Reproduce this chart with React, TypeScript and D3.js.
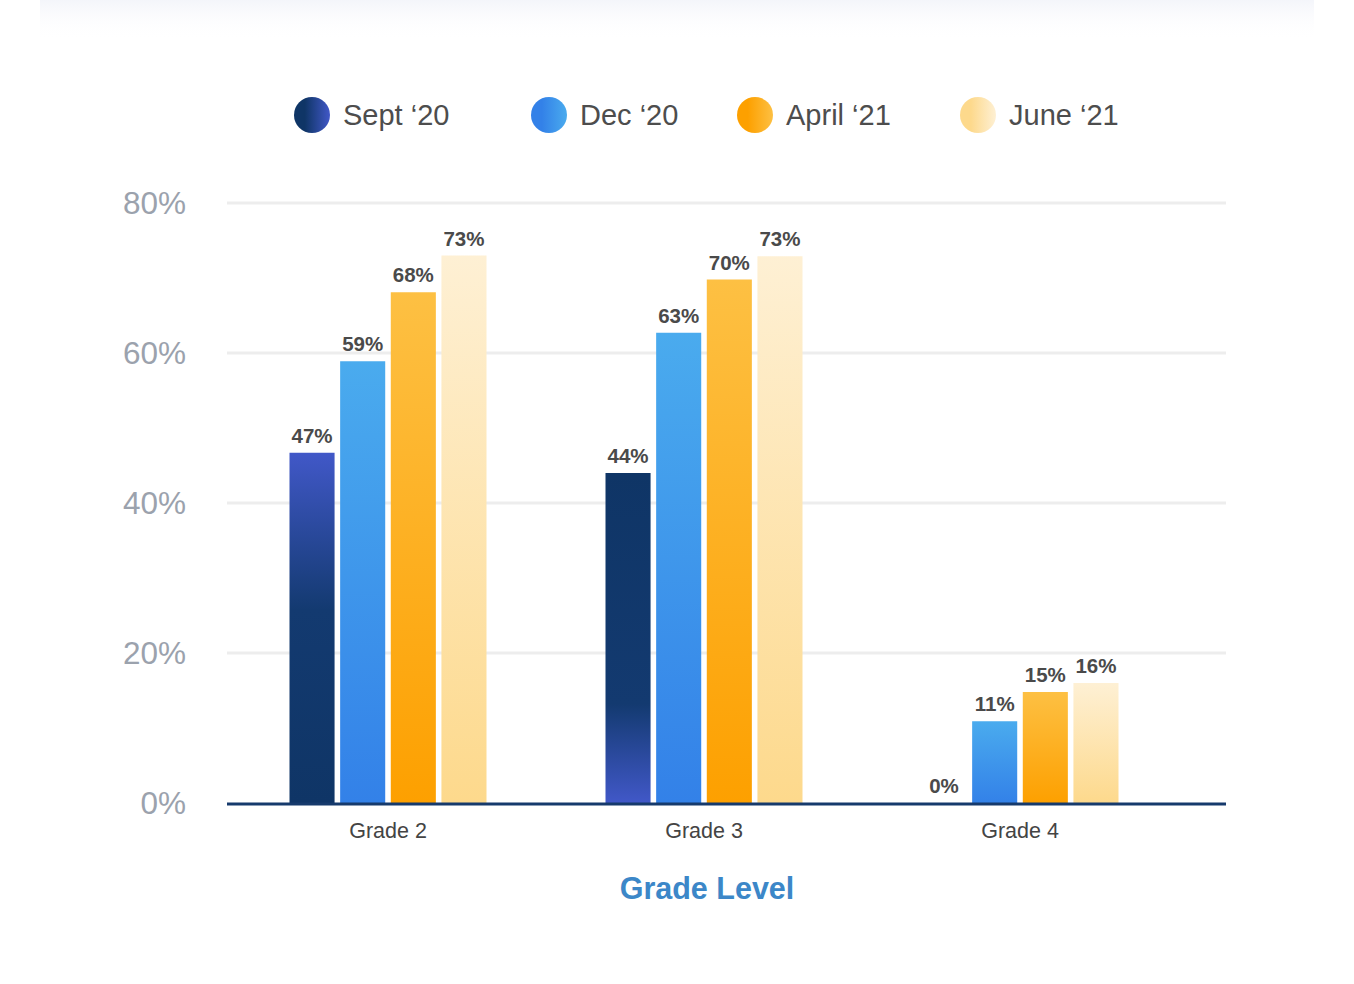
import React from 'react';
import * as d3 from 'd3';

const grades = ['Grade 2', 'Grade 3', 'Grade 4'];
const periods = ['Sept ‘20', 'Dec ‘20', 'April ‘21', 'June ‘21'];
const sept20 = [46.7, 44.0, 0];
const dec20 = [58.9, 62.7, 10.9];
const april21 = [68.1, 69.8, 14.8];
const june21 = [73.0, 72.9, 16.0];
const yTicks = [0, 20, 40, 60, 80];

// bottom / top colours of each series gradient
const gradientStops = [
  ['#0f3566', '#4158c8'],
  ['#3381e8', '#4aabee'],
  ['#fda000', '#fdc043'],
  ['#fdd98c', '#fef0d4'],
];

const W = 1354;
const H = 984;

type AnySelection = d3.Selection<any, unknown, null, undefined>;

const App: React.FC = () => {
  const svgRef = React.useRef<SVGSVGElement>(null);

  React.useEffect(() => {
    document.body.style.margin = '0';
    const svg = d3.select(svgRef.current);
    svg.selectAll('*').remove();

    const seriesValues = [sept20, dec20, april21, june21];
    const margin = { left: 227, right: 128, top: 203, bottom: 181 };

    const x = d3.scaleBand().domain(grades).range([230, 1178]);
    const xInner = d3.scaleBand().domain(periods).range([-98.5, 98.5]).paddingInner(0.11);
    const y = d3.scaleLinear().domain([0, 80]).range([H - margin.bottom, margin.top]);

    const defs = svg.append('defs');

    const shadow = defs.append('linearGradient').attr('id', 'top-shadow')
      .attr('x1', 0).attr('y1', 0).attr('x2', 0).attr('y2', 1);
    shadow.append('stop').attr('offset', 0).attr('stop-color', '#e6e9f5').attr('stop-opacity', 0.45);
    shadow.append('stop').attr('offset', 1).attr('stop-color', '#ffffff').attr('stop-opacity', 0);

    gradientStops.forEach(([bottom, top], i) => {
      const v = defs.append('linearGradient').attr('id', `bar-${i}`)
        .attr('x1', 0).attr('y1', 1).attr('x2', 0).attr('y2', 0);
      if (i === 0) {
        v.append('stop').attr('offset', 0).attr('stop-color', bottom);
        v.append('stop').attr('offset', 0.55).attr('stop-color', '#133a70');
        v.append('stop').attr('offset', 1).attr('stop-color', top);
      } else {
        v.append('stop').attr('offset', 0).attr('stop-color', bottom);
        v.append('stop').attr('offset', 1).attr('stop-color', top);
      }
      const h = defs.append('linearGradient').attr('id', `dot-${i}`)
        .attr('x1', 0).attr('y1', 0).attr('x2', 1).attr('y2', 0);
      h.append('stop').attr('offset', 0.3).attr('stop-color', bottom);
      h.append('stop').attr('offset', 1).attr('stop-color', top);
    });
    // sept bar in grade 3 has its light end at the bottom
    const flip = defs.append('linearGradient').attr('id', 'bar-0-flip')
      .attr('x1', 0).attr('y1', 1).attr('x2', 0).attr('y2', 0);
    flip.append('stop').attr('offset', 0).attr('stop-color', '#4158c8');
    flip.append('stop').attr('offset', 0.3).attr('stop-color', '#133a70');
    flip.append('stop').attr('offset', 1).attr('stop-color', '#0f3566');

    svg.append('rect')
      .attr('x', 40).attr('y', 0).attr('width', W - 80).attr('height', 40)
      .attr('fill', 'url(#top-shadow)');

    // grid
    svg.append('g')
      .selectAll('line')
      .data(yTicks.filter(t => t > 0))
      .join('line')
        .attr('x1', margin.left)
        .attr('x2', W - margin.right)
        .attr('y1', d => y(d))
        .attr('y2', d => y(d))
        .attr('stroke', '#ededed')
        .attr('stroke-width', 3);

    svg.append('g')
      .selectAll('text')
      .data(yTicks)
      .join('text')
        .attr('x', 186)
        .attr('y', d => y(d) + 11)
        .attr('text-anchor', 'end')
        .attr('font-family', '"Liberation Sans", Arial, sans-serif')
        .attr('font-size', 31.5)
        .attr('fill', '#9ba2ad')
        .text(d => `${d}%`);

    // bars
    const rows = grades.map((g, gi) => ({
      grade: g,
      values: periods.map((p, pi) => ({ period: p, pi, gi, value: seriesValues[pi][gi] })),
    }));

    const groups = svg.append('g')
      .selectAll('g')
      .data(rows)
      .join('g')
        .attr('transform', d => `translate(${x(d.grade)! + x.bandwidth() / 2}, 0)`);

    groups.selectAll('rect')
      .data(d => d.values)
      .join('rect')
        .attr('x', d => xInner(d.period)!)
        .attr('y', d => y(d.value))
        .attr('width', xInner.bandwidth())
        .attr('height', d => y(0) - y(d.value))
        .attr('fill', d => (d.pi === 0 && d.gi === 1 ? 'url(#bar-0-flip)' : `url(#bar-${d.pi})`));

    groups.selectAll('text')
      .data(d => d.values)
      .join('text')
        .attr('x', d => xInner(d.period)! + xInner.bandwidth() / 2)
        .attr('y', d => y(d.value) - 10)
        .attr('text-anchor', 'middle')
        .attr('font-family', '"Liberation Sans", Arial, sans-serif')
        .attr('font-weight', 'bold')
        .attr('font-size', 20.5)
        .attr('fill', '#4a4a4a')
        .text(d => `${Math.round(d.value)}%`);

    // baseline + x labels
    svg.append('line')
      .attr('x1', margin.left).attr('x2', W - margin.right)
      .attr('y1', y(0) + 1).attr('y2', y(0) + 1)
      .attr('stroke', '#163a6c').attr('stroke-width', 3);

    svg.append('g')
      .attr('transform', `translate(0, ${y(0)})`)
      .call((g: AnySelection) => g
        .call(d3.axisBottom(x).tickSize(0).tickPadding(20))
        .call(a => a.select('.domain').remove())
        .call(a => a.selectAll('text')
          .attr('font-family', '"Liberation Sans", Arial, sans-serif')
          .attr('font-size', 21.5)
          .attr('fill', '#444'))
      );

    svg.append('text')
      .attr('x', 707).attr('y', 899)
      .attr('text-anchor', 'middle')
      .attr('font-family', '"Liberation Sans", Arial, sans-serif')
      .attr('font-weight', 'bold')
      .attr('font-size', 30.5)
      .attr('fill', '#3c87c8')
      .text('Grade Level');

    // legend
    const legendX = [312, 549, 755, 978];
    const legend = svg.append('g')
      .selectAll('g')
      .data(periods)
      .join('g')
        .attr('transform', (_, i) => `translate(${legendX[i]}, 115)`);
    legend.append('circle')
      .attr('r', 18)
      .attr('fill', (_, i) => `url(#dot-${i})`);
    legend.append('text')
      .attr('x', 31)
      .attr('y', 10)
      .attr('font-family', '"Liberation Sans", Arial, sans-serif')
      .attr('font-size', 29)
      .attr('fill', '#4d4d4d')
      .text(d => d);
  }, []);

  return <svg ref={svgRef} width={W} height={H} style={{ display: 'block', background: '#fff' }} />;
};

export default App;
